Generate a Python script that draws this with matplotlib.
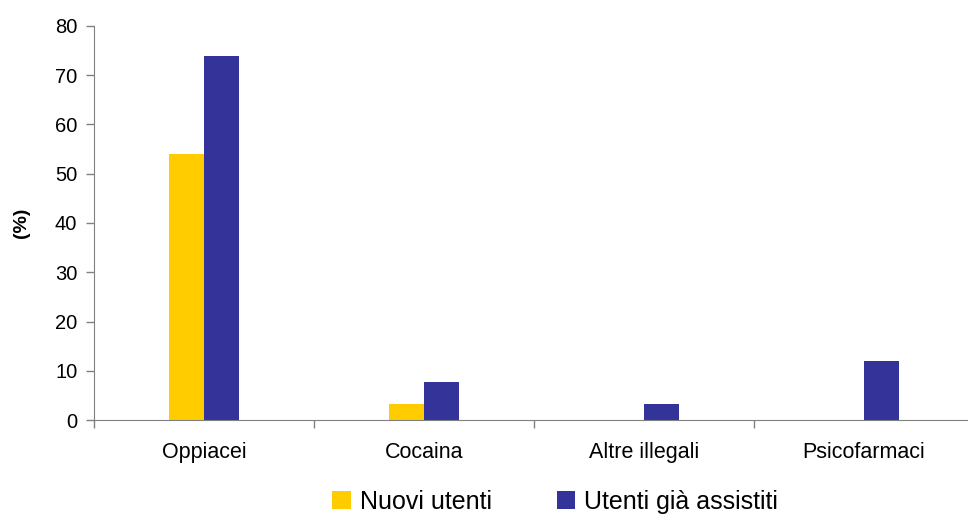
import matplotlib
matplotlib.use("Agg")
import matplotlib.pyplot as plt
import numpy as np

# categories and values (%)
categories = ["Oppiacei", "Cocaina", "Altre illegali", "Psicofarmaci"]
nuovi_utenti = [54.0, 3.2, 0.0, 0.0]
utenti_assistiti = [74.0, 7.7, 3.2, 12.0]
series_names = ["Nuovi utenti", "Utenti già assistiti"]

plt.rcParams['font.family'] = ['Liberation Sans', 'DejaVu Sans']

W, H = 968, 514
fig = plt.figure(figsize=(W / 100, H / 100), dpi=100)
ax = fig.add_axes([94 / W, 94 / H, 880 / W, 394 / H])

x = np.arange(len(categories))
bw = 0.16
ax.bar(x - bw / 2, nuovi_utenti, width=bw, color="#FFCC00", label=series_names[0])
ax.bar(x + bw / 2, utenti_assistiti, width=bw, color="#333399", label=series_names[1])

ax.set_xlim(-0.5, len(categories) - 0.5)
ax.set_ylim(0, 80)
ax.set_yticks(range(0, 81, 10))
ax.set_xticks(x)
ax.set_xticklabels(categories, fontsize=15.5)
ax.set_xticks(np.arange(-0.5, len(categories), 1.0), minor=True)
ax.tick_params(axis="x", which="major", length=0, pad=16)
ax.tick_params(axis="x", which="minor", length=6, color="#808080", width=1)
ax.tick_params(axis="y", length=6, color="#808080", width=1, labelsize=14.5, pad=6)

for s in ["top", "right"]:
    ax.spines[s].set_visible(False)
for s in ["left", "bottom"]:
    ax.spines[s].set_color("#808080")
ax.spines["left"].set_bounds(0, 80)

ax.set_ylabel("(%)", fontsize=14, fontweight="bold", labelpad=18)

fig.legend(loc="center", bbox_to_anchor=(555 / W, 12 / H), ncol=2,
           frameon=False, fontsize=18, handlelength=0.75, handleheight=0.75,
           handletextpad=0.35, columnspacing=2.6, borderpad=0)

fig.savefig("out.png", dpi=100)
